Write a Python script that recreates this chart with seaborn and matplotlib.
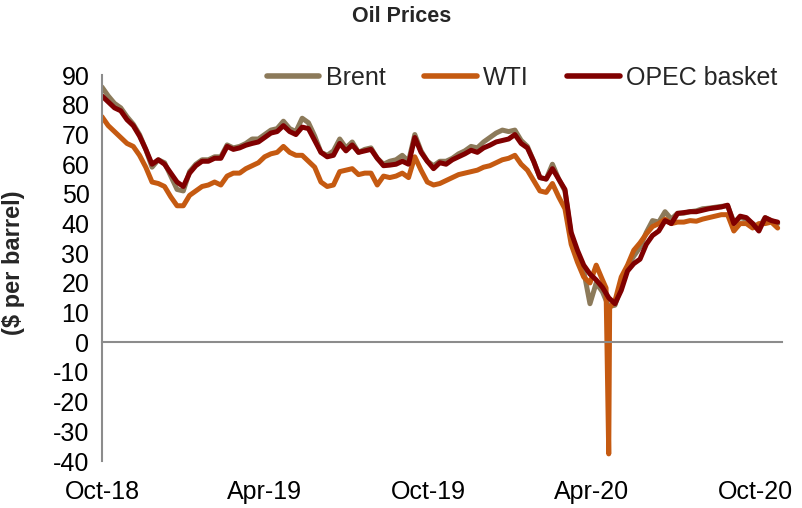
import numpy as np
import pandas as pd
import matplotlib
matplotlib.use("Agg")
import matplotlib.pyplot as plt
import matplotlib.dates as mdates
from matplotlib.lines import Line2D
import seaborn as sns

# ---------------- data (weekly readings, Mondays from 2018-10-01) ----------------
start_date = "2018-10-01"
series_names = ["Brent", "WTI", "OPEC basket"]

brent = [86, 83, 80.5, 79, 76, 73.5, 70, 65, 59, 61.5,
         60.5, 56, 51.5, 51, 57.5, 60, 61.5, 61.5, 62.5, 62.5,
         66.5, 65.5, 66, 67, 68.5, 68.5, 70, 71.5, 72, 74.5,
         72, 71, 75.5, 74, 69.5, 64, 63, 64.5, 68.5, 65.5,
         67.5, 64, 65, 65.5, 62, 60, 61, 61.5, 63, 61,
         70, 64.5, 61, 59.5, 61, 61, 62, 63.5, 64.5, 66,
         65.5, 67.5, 69, 70.5, 71.5, 71, 71.5, 68, 66, 61,
         55.5, 55, 60, 55, 51, 36, 30, 24, 13, 20,
         17, 12, 12.5, 19, 25.5, 29, 32, 37, 41, 40.5,
         44, 41.5, 43.5, 43.5, 44, 44.3, 45, 45.2, 45.5, 45.8,
         46, 40.5, 42, 41.5, 40, 38.5, 42, 41, 40]

wti = [76, 73, 71, 69, 67, 66, 63, 59, 54, 53.5,
       52.5, 49, 46, 46, 49.5, 51, 52.5, 53, 54, 53,
       56, 57, 57, 58.5, 59.5, 60.5, 62.5, 63.5, 64, 66,
       64, 63, 63, 61, 59, 54, 52.5, 53, 57.5, 58,
       58.5, 56.5, 57, 57, 53, 56, 55.5, 56, 57, 55.5,
       62.5, 58, 54, 53, 53.5, 54.5, 55.5, 56.5, 57, 57.5,
       58, 59, 59.5, 60.5, 61.5, 62, 63, 60, 58, 54.5,
       51, 50.5, 53.5, 49, 45, 33, 27, 22, 20, 26,
       21, -37.6, 14, 22, 26, 31, 33.5, 36.5, 39, 40,
       41.5, 40, 40.5, 40.5, 41, 40.8, 41.5, 42, 42.5, 43,
       43, 37.5, 40, 40, 38.5, 40, 40, 40.5, 38.5]

# extra daily readings around the April-2020 WTI collapse
wti_extra_dates = ["2020-04-17", "2020-04-21"]
wti_extra = [18.3, 11.6]

opec = [83, 81, 79, 78, 75, 73, 69.5, 65, 60, 61.5,
        60, 57, 54, 52.5, 57, 59.5, 61, 61, 62, 62,
        66, 65, 65.5, 66.4, 67, 67.5, 69, 70.5, 71, 73,
        71, 70, 72.5, 72, 68, 64, 62.5, 63, 67, 64.5,
        66.5, 64, 64.5, 65, 62, 59.5, 59.7, 60, 61, 60,
        69, 64, 61, 58.5, 60.5, 60, 61.5, 62.5, 63.5, 64.7,
        64, 65.5, 66.4, 67.5, 68, 68.5, 70, 67, 65.5, 61,
        55.5, 55, 58.5, 55, 51.5, 37, 31, 26, 23, 21,
        18.5, 15, 13, 17.5, 24, 26.5, 28, 33, 36, 37.5,
        41, 40, 43.4, 43.7, 44, 44, 44.5, 45, 45.3, 45.6,
        46.2, 40, 42.5, 42, 40, 37.5, 42, 41, 40.5]

tick_dates = ["2018-10-01", "2019-04-01", "2019-10-01", "2020-04-01", "2020-10-01"]
tick_labels = ["Oct-18", "Apr-19", "Oct-19", "Apr-20", "Oct-20"]
y_ticks = list(range(-40, 91, 10))

colors = ["#8C7A5A", "#C55A11", "#800000"]

# ---------------- build long-form table ----------------
weeks = pd.date_range(start_date, periods=len(brent), freq="7D")
frames = [
    pd.DataFrame({"date": weeks, "price": brent, "series": "Brent"}),
    pd.DataFrame({"date": list(weeks) + list(pd.to_datetime(wti_extra_dates)),
                  "price": wti + wti_extra, "series": "WTI"}),
    pd.DataFrame({"date": weeks, "price": opec, "series": "OPEC basket"}),
]
df = pd.concat(frames, ignore_index=True).sort_values(["series", "date"])

# ---------------- plot ----------------
sns.set_style("white")
plt.rcParams["font.family"] = ["Liberation Sans", "DejaVu Sans"]

fig = plt.figure(figsize=(8.03, 5.08), dpi=100)
ax = fig.add_axes([0.127, 0.0925, 0.847, 0.7595])

sns.lineplot(data=df, x="date", y="price", hue="series", hue_order=series_names,
             palette=colors, linewidth=3.6, estimator=None, legend=False, ax=ax,
             solid_joinstyle="round", solid_capstyle="round")

ax.set_ylim(-40, 90)
ax.set_xlim(pd.Timestamp("2018-10-01"), pd.Timestamp("2020-10-31"))
ax.set_yticks(y_ticks)
ax.set_yticklabels([str(v) for v in y_ticks], fontsize=18)

spine_col = "#8C8C8C"
for s in ["top", "right"]:
    ax.spines[s].set_visible(False)
ax.spines["left"].set_color(spine_col)
ax.spines["left"].set_linewidth(1.5)
ax.spines["bottom"].set_color(spine_col)
ax.spines["bottom"].set_linewidth(1.5)
ax.spines["bottom"].set_position(("data", 0))

ax.set_xticks(pd.to_datetime(tick_dates))
ax.set_xticklabels([""] * len(tick_labels))
ax.tick_params(axis="x", direction="out", length=5, width=1.5, color=spine_col)
ax.tick_params(axis="y", direction="out", length=5, width=1.5, color=spine_col,
               pad=4, labelcolor="black")

xt = ax.get_xaxis_transform()
for d, lab in zip(pd.to_datetime(tick_dates), tick_labels):
    ax.text(mdates.date2num(d), -0.08, lab, transform=xt, ha="center", va="center",
            fontsize=18, color="black")

ax.set_xlabel("")
ax.set_ylabel("($ per barrel)", fontsize=17, fontweight="bold")
ax.yaxis.set_label_coords(-0.113, 0.513)

fig.text(0.5, 0.967, "Oil Prices", ha="center", va="center", fontsize=15.5,
         fontweight="bold")

handles = [Line2D([0], [0], color=c, lw=4.0, solid_capstyle="round") for c in colors]
leg = fig.legend(handles, series_names, loc="center right", bbox_to_anchor=(0.968, 0.846),
                 ncol=3, frameon=False, fontsize=18, handlelength=2.1,
                 handletextpad=0.25, columnspacing=1.55, borderpad=0, borderaxespad=0)

fig.savefig("out.png", dpi=100)
